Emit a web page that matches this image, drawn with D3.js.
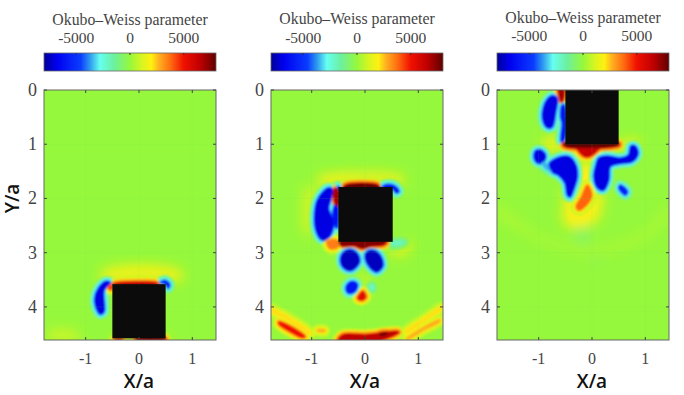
<!DOCTYPE html>
<html lang="en">
<head>
<meta charset="UTF-8">
<title>Okubo-Weiss parameter</title>
<script src="https://d3js.org/d3.v7.min.js"></script>
<style>
html,body{margin:0;padding:0;background:#fff;}
text{font-family:"Liberation Serif",serif;fill:#444;}
.lab{font-family:"Open Sans",sans-serif;font-weight:600;font-size:19px;fill:#111;}
</style>
</head>
<body>
<svg width="684" height="395"></svg>
<script>
// colour bar stops
var barValues = [-8000,-6800,-4600,-3700,-2800,-1500,0,1100,2000,2700,3800,5000,6500,8000];
var barColors = ['#00009a','#0000f0','#0a3cff','#2f9cf0','#66fff0','#6cf0a0','#96f83c','#d8f520','#fff010','#ffb020','#ff6a10','#f01000','#c00000','#600000'];
var background = 0;

var xTicks = [-1,0,1];
var yTicks = [0,1,2,3,4];
var barTicks = [-5000,0,5000];

// box position in each frame [x0,y0,x1,y1]
var boxA = [-0.5,3.58,0.5,4.58];
var boxB = [-0.5,1.79,0.52,2.80];
var boxC = [-0.5,0,0.5,1];

// each contour: [value, [x,y], [x,y], ...]
var softA = [
  [1700,[-0.7,3.35],[0,3.22],[0.8,3.35],[0.8,3.5],[0,3.5],[-0.7,3.5]],
  [900,[-1.7,4.45],[-1.2,4.45],[-1.1,4.6],[-1.7,4.6]],
  [1000,[-0.5,4.58],[0.6,4.58],[0.6,4.62],[-0.5,4.62]]
];
var blobsA = [
  [-7000,[-0.61,3.53],[-0.54,3.56],[-0.66,3.69],[-0.66,4.09],[-0.73,4.13],[-0.81,3.99],[-0.825,3.84],[-0.76,3.66]],
  [-5500,[0.39,3.55],[0.5,3.51],[0.58,3.59],[0.55,3.66],[0.49,3.58]],
  [6500,[-0.5,3.58],[-0.35,3.55],[0.1,3.54],[0.3,3.55],[0.36,3.58]],
  [4500,[-0.57,3.62],[-0.5,3.6],[-0.5,3.68],[-0.56,3.68]],
  [6500,[-0.45,4.6],[-0.32,4.6],[-0.32,4.63],[-0.45,4.63]],
  [7500,[-0.05,4.59],[0.49,4.59],[0.49,4.63],[-0.05,4.63]]
];

var softB = [
  [1900,[-0.9,1.62],[0,1.52],[0.75,1.62],[0.7,1.72],[0,1.68],[-0.8,1.75]],
  [1000,[-1.1,1.8],[-0.95,1.8],[-1.05,2.7],[-1.15,2.6]],
  [1500,[0.5,2.9],[0.9,2.85],[0.8,3.0],[0.5,3.05]],
  [1300,[-0.05,3.4],[0.02,3.4],[0.02,3.8],[-0.05,3.8]]
];
var blobsB = [
  [2200,[-1.78,4.02],[-1.4,4.2],[-1.0,4.48],[-1.03,4.52],[-1.45,4.25],[-1.78,4.08]],
  [5000,[-1.62,4.27],[-1.41,4.35],[-1.12,4.55],[-1.18,4.57],[-1.41,4.46],[-1.62,4.32]],
  [2800,[-0.9,4.42],[-0.75,4.42],[-0.75,4.46],[-0.9,4.45]],
  [6500,[-0.5,4.6],[-0.41,4.51],[0.03,4.51],[0.59,4.45],[0.64,4.47],[0.41,4.58],[0.16,4.65],[-0.5,4.65]],
  [8000,[0.28,4.49],[0.43,4.48],[0.4,4.52],[0.28,4.53]],
  [2200,[0.74,4.46],[1.16,4.17],[1.44,3.99],[1.44,4.04],[1.2,4.21],[0.78,4.49]],
  [2800,[0.77,4.59],[1.03,4.41],[1.41,4.23],[1.41,4.27],[1.09,4.44],[0.81,4.6]],
  [-7000,[-0.69,1.81],[-0.61,1.84],[-0.66,2.06],[-0.69,2.18],[-0.59,2.46],[-0.69,2.73],[-0.81,2.76],[-0.91,2.61],[-0.94,2.27],[-0.875,2.0]],
  [-6500,[-0.52,2.0],[-0.52,2.55],[-0.58,2.45],[-0.6,2.25],[-0.56,2.1]],
  [-5000,[-0.52,1.77],[-0.47,1.79],[-0.5,1.85]],
  [7000,[-0.58,1.83],[-0.51,1.82],[-0.51,2.15],[-0.56,2.1]],
  [8000,[-0.4,1.8],[-0.34,1.75],[0.22,1.75],[0.28,1.81]],
  [-6000,[0.33,1.78],[0.44,1.74],[0.56,1.77],[0.64,1.87],[0.59,1.9],[0.5,1.81],[0.34,1.83]],
  [-2000,[0.52,2.8],[0.74,2.8],[0.66,2.85],[0.52,2.86]],
  [7500,[-0.5,2.8],[0.4,2.8],[0.35,2.85],[0.1,2.88],[-0.05,2.92],[-0.2,2.87],[-0.45,2.87]],
  [3500,[-0.72,2.79],[-0.53,2.76],[-0.5,2.9],[-0.66,2.93]],
  [-7500,[-0.28,2.95],[-0.16,3.01],[-0.11,3.17],[-0.25,3.32],[-0.375,3.29],[-0.45,3.17],[-0.41,3.01]],
  [-7500,[0.125,2.96],[0.27,3.04],[0.33,3.24],[0.22,3.35],[0.09,3.26],[0.01,3.1],[0.03,3.0]],
  [-6000,[-0.22,3.53],[-0.14,3.59],[-0.19,3.72],[-0.31,3.75],[-0.36,3.66],[-0.31,3.56]],
  [-2500,[0.11,3.61],[0.14,3.61],[0.15,3.67],[0.12,3.67]],
  [5500,[-0.04,3.71],[0.02,3.82],[-0.06,3.88],[-0.14,3.84]]
];

var softC = [
  [1800,[-0.9,0.9],[-0.6,0.9],[-0.6,1.1],[-0.9,1.1]],
  [1800,[0.55,0.95],[0.9,0.95],[0.8,1.1],[0.55,1.1]],
  [1900,[-0.3,1.4],[0.1,1.4],[0.1,2.4],[-0.5,2.5]],
  [550,[-1.78,2.15],[-1,2.68],[0,2.92],[1,2.62],[1.44,2.15],[1.44,2.25],[1,2.72],[0,3.0],[-1,2.76],[-1.78,2.25]],
  [-800,[-0.25,2.55],[-0.1,2.55],[-0.1,2.8],[-0.25,2.8]],
  [-300,[0.03,3.08],[0.17,3.08],[0.17,3.24],[0.03,3.24]]
];
var blobsC = [
  [-7000,[-0.75,0.11],[-0.66,0.15],[-0.69,0.43],[-0.75,0.68],[-0.84,0.69],[-0.925,0.52],[-0.91,0.34],[-0.84,0.18]],
  [7000,[-0.625,-0.02],[-0.53,-0.02],[-0.56,0.215],[-0.58,0.215],[-0.61,0.12]],
  [-6000,[-0.56,0.28],[-0.52,0.28],[-0.52,0.92],[-0.58,0.95],[-0.56,0.61],[-0.59,0.49]],
  [6200,[-0.31,1.0],[0.18,1.0],[-0.03,1.22],[-0.16,1.22]],
  [8000,[-0.54,0.99],[0.5,0.99],[0.5,1.02],[-0.5,1.04]],
  [-3500,[-0.97,1.3],[-0.81,1.38],[-0.75,1.51],[-0.88,1.45]],
  [-7000,[-0.97,1.11],[-0.875,1.2],[-0.91,1.32],[-1,1.35],[-1.08,1.26],[-1.06,1.13]],
  [-7000,[-0.81,1.38],[-0.66,1.26],[-0.44,1.23],[-0.31,1.38],[-0.28,1.6],[-0.34,1.81],[-0.41,1.97],[-0.46,1.94],[-0.5,1.72],[-0.625,1.57],[-0.75,1.51]],
  [-7000,[0.125,1.26],[0.28,1.22],[0.53,1.26],[0.69,1.2],[0.73,1.04],[0.81,1.04],[0.86,1.17],[0.75,1.32],[0.53,1.35],[0.34,1.41],[0.31,1.66],[0.22,1.84],[0.11,1.81],[0.04,1.6],[0.08,1.38]],
  [-5500,[0.53,1.75],[0.67,1.87],[0.625,1.94],[0.5,1.81]],
  [3900,[-0.09,1.75],[0,1.94],[-0.11,2.13],[-0.25,2.22],[-0.3,2.15],[-0.2,1.97]]
];

var panels = [
  {left:44, zero:139, soft:softA, blobs:blobsA, box:boxA, yLabels:true, titleY:25, tickY:43},
  {left:271, zero:365, soft:softB, blobs:blobsB, box:boxB, yLabels:false, titleY:24, tickY:43},
  {left:497, zero:592, soft:softC, blobs:blobsC, box:boxC, yLabels:false, titleY:23, tickY:41}
];
var barTop = 53, barH = 18, barW = 172;
var plotTop = 90, plotH = 250;

// widths and how far towards the contour value each halo goes
var rings = [[10.5,0.15],[8,0.33],[5.5,0.42],[3,0.6],[1.4,0.85]];

var color = d3.scaleLinear().domain(barValues).range(barColors).clamp(true);
var svg = d3.select('svg');
var defs = svg.append('defs');

defs.append('filter').attr('id','blur').attr('x','-30%').attr('y','-30%').attr('width','160%').attr('height','160%')
  .append('feGaussianBlur').attr('stdDeviation',1.1);
defs.append('filter').attr('id','soft').attr('x','-50%').attr('y','-50%').attr('width','200%').attr('height','200%')
  .append('feGaussianBlur').attr('stdDeviation',6);

var grad = defs.append('linearGradient').attr('id','jet');
barValues.forEach(function(v,i){
  grad.append('stop').attr('offset',(v+8000)/16000).attr('stop-color',barColors[i]);
});

panels.forEach(function(p,n){
  var g = svg.append('g');
  var x = d3.scaleLinear().domain([(p.left-p.zero)/53.3,(p.left+barW-p.zero)/53.3]).range([p.left,p.left+barW]);
  var y = d3.scaleLinear().domain([0,4.61]).range([plotTop,plotTop+plotH]);
  var b = d3.scaleLinear().domain([-8000,8000]).range([p.left,p.left+barW]);

  // colour bar
  g.append('rect').attr('x',p.left).attr('y',barTop).attr('width',barW).attr('height',barH)
    .attr('fill','url(#jet)').attr('stroke','#666').attr('stroke-width',0.8);
  g.selectAll('.bt').data(barTicks).enter().append('line')
    .attr('x1',b).attr('x2',b).attr('y1',barTop).attr('y2',barTop+2).attr('stroke','#333');
  g.selectAll('.bl').data(barTicks).enter().append('text')
    .attr('x',b).attr('y',p.tickY).attr('text-anchor','middle').attr('font-size',15.5)
    .text(function(d){return d;});
  g.append('text').attr('x',p.left+86).attr('y',p.titleY).attr('text-anchor','middle').attr('font-size',15.8)
    .text('Okubo–Weiss parameter');

  // field
  var clipId = 'clip'+n;
  defs.append('clipPath').attr('id',clipId).append('rect')
    .attr('x',p.left).attr('y',plotTop).attr('width',barW).attr('height',plotH);
  var field = g.append('g').attr('clip-path','url(#'+clipId+')');
  field.append('rect').attr('x',p.left).attr('y',plotTop).attr('width',barW).attr('height',plotH)
    .attr('fill',color(background));

  var line = d3.line().x(function(d){return x(d[0]);}).y(function(d){return y(d[1]);}).curve(d3.curveCatmullRomClosed.alpha(0.5));
  var mix = function(v,k){return background+(v-background)*k;};

  field.append('g').attr('filter','url(#soft)').selectAll('path').data(p.soft).enter().append('path')
    .attr('d',function(d){return line(d.slice(1));})
    .attr('fill',function(d){return color(d[0]);});

  var layer = field.append('g').attr('filter','url(#blur)');
  // all halos first, widest to narrowest, so they never cover a neighbour's core
  rings.forEach(function(r){
    layer.append('g').selectAll('path').data(p.blobs).enter().append('path')
      .attr('d',function(d){return line(d.slice(1));})
      .attr('fill','none').attr('stroke-linejoin','round')
      .attr('stroke',function(d){return color(mix(d[0],r[1]));})
      .attr('stroke-width',r[0]);
  });
  layer.append('g').selectAll('path').data(p.blobs).enter().append('path')
    .attr('d',function(d){return line(d.slice(1));})
    .attr('fill',function(d){return color(d[0]);});

  // faint grid showing through the field
  g.selectAll('.gx').data(xTicks).enter().append('line')
    .attr('x1',x).attr('x2',x).attr('y1',plotTop).attr('y2',plotTop+plotH)
    .attr('stroke','#60f060').attr('stroke-opacity',0.12);
  g.selectAll('.gy').data(yTicks.slice(1)).enter().append('line')
    .attr('y1',y).attr('y2',y).attr('x1',p.left).attr('x2',p.left+barW)
    .attr('stroke','#60f060').attr('stroke-opacity',0.12);

  // box
  g.append('rect').attr('x',x(p.box[0])).attr('y',y(p.box[1]))
    .attr('width',x(p.box[2])-x(p.box[0])).attr('height',y(p.box[3])-y(p.box[1]))
    .attr('fill','#0b0b0b').attr('clip-path','url(#'+clipId+')');

  // frame and inward ticks
  g.append('rect').attr('x',p.left).attr('y',plotTop).attr('width',barW).attr('height',plotH)
    .attr('fill','none').attr('stroke','#666').attr('stroke-width',1);
  [plotTop,plotTop+plotH].forEach(function(yy,k){
    g.selectAll('.tx'+k).data(xTicks).enter().append('line')
      .attr('x1',x).attr('x2',x).attr('y1',yy).attr('y2',k?yy-3:yy+3).attr('stroke','#444');
  });
  [p.left,p.left+barW].forEach(function(xx,k){
    g.selectAll('.ty'+k).data(yTicks).enter().append('line')
      .attr('y1',y).attr('y2',y).attr('x1',xx).attr('x2',k?xx-3:xx+3).attr('stroke','#444');
  });

  g.selectAll('.xl').data(xTicks).enter().append('text')
    .attr('x',x).attr('y',364).attr('text-anchor','middle').attr('font-size',16)
    .text(function(d){return d;});
  g.selectAll('.yl').data(yTicks).enter().append('text')
    .attr('x',p.left-7).attr('y',function(d){return y(d)+6;}).attr('text-anchor','end').attr('font-size',18)
    .text(function(d){return d;});
  g.append('text').attr('class','lab').attr('x',p.zero).attr('y',388).attr('text-anchor','middle').text('X/a');
  if(p.yLabels){
    g.append('text').attr('class','lab').attr('text-anchor','middle')
      .attr('transform','translate(19,'+y(2)+') rotate(-90)').text('Y/a');
  }
});
</script>
</body>
</html>
